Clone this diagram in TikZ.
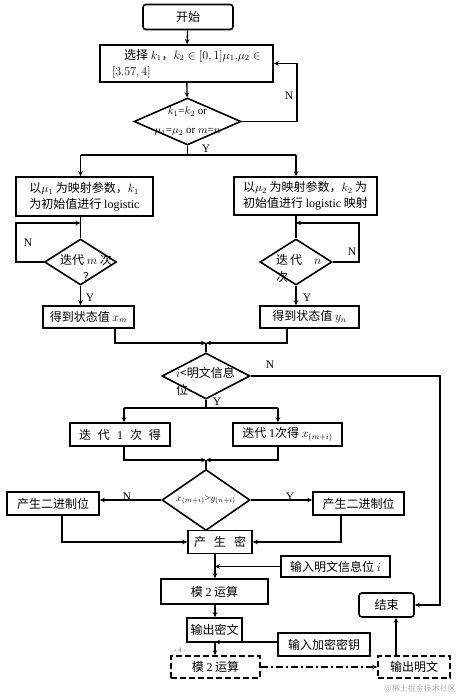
\documentclass[tikz,border=0pt]{standalone}
\usepackage{fontspec}
\setmainfont{Liberation Serif}
\newfontfamily\cjk{Noto Sans CJK SC}
\usetikzlibrary{arrows.meta,shapes.geometric}

\tikzset{
  box/.style={draw, line width=1.6pt, inner sep=2pt, font=\cjk\fontsize{12}{16}\selectfont},
  rbox/.style={box, rounded corners=3pt},
  dbox/.style={box, dash pattern=on 6pt off 3pt},
  dia/.style={draw, diamond, line width=1.6pt, inner sep=0pt},
  txt/.style={inner sep=0pt, font=\cjk\fontsize{12}{17}\selectfont, align=center},
  flag/.style={inner sep=0pt, font=\rmfamily\fontsize{11.5}{12}\selectfont},
  link/.style={line width=1.3pt},
  arr/.style={link, -{Stealth[length=5pt,width=4.5pt]}},
}

\begin{document}
\begin{tikzpicture}[x=1pt,y=-1pt]
    \useasboundingbox (0,0) rectangle (468,700);

    % start and parameters
    \node[rbox, minimum width=90pt, minimum height=25pt] (start) at (188,17) {开始};
    \node[box, minimum width=173pt, minimum height=37pt, align=left] (choose) at (186.5,63.5)
      {\quad 选择 $k_1$，$k_2\in[0,1]\mu_1{,}\mu_2\in$\\$[3.57,4]$};
    \node[dia, minimum width=107pt, minimum height=47pt] (same) at (187.5,121.5) {};
    \node[txt, font=\rmfamily\fontsize{11}{19}\selectfont] (samet) at (same)
      {$k_1$=$k_2$ or\\$\mu_1$=$\mu_2$ or $m$=$n$};
    \draw[arr] (start) -- (choose);
    \draw[arr] (choose) -- (same);
    \coordinate (loop0) at (297,63.5);
    \draw[arr] (same.east) -| (loop0) -- (choose.east);

    % two logistic maps
    \node[box, minimum width=137pt, minimum height=39pt, align=left] (mapa) at (84.5,196.5)
      {以$\mu_1$ 为映射参数，$k_1$\\为初始值进行 {\rmfamily logistic}};
    \node[box, minimum width=143pt, minimum height=38pt, align=left] (mapb) at (305.5,196)
      {以$\mu_2$ 为映射参数，$k_2$ 为\\初始值进行 {\rmfamily logistic} 映射};
    \node[dia, minimum width=72pt, minimum height=46pt] (itm) at (80.5,262) {};
    \node[txt] (itmt) at (86,268) {迭代 $m$ 次\\?};
    \node[dia, minimum width=72pt, minimum height=46pt] (itn) at (296,262) {};
    \node[txt, align=left, anchor=west] (itnt) at (276,268) {迭\,代\quad $n$\\次};
    \node[box, minimum width=91pt, minimum height=22pt] (getx) at (88.5,317) {得到状态值 $x_m$};
    \node[box, minimum width=99pt, minimum height=22pt] (gety) at (309.5,317) {得到状态值 $y_n$};

    \coordinate (s1) at (0,155);
    \draw[link] (same.south) -- (same.south |- s1);
    \draw[link] (itm.north |- s1) -- (itn.north |- s1);
    \draw[arr] (itm.north |- s1) -- (itm.north |- mapa.north);
    \draw[arr] (itn.north |- s1) -- (itn.north |- mapb.north);
    \draw[link] (itm.north |- mapa.south) -- (itm.north);
    \draw[link] (itn.north |- mapb.south) -- (itn.north);
    \coordinate (loopa) at (16,223);
    \coordinate (loopb) at (359,223);
    \draw[arr] (itm.west) -| (loopa) -- (loopa -| itm.north);
    \draw[arr] (itn.east) -| (loopb) -- (loopb -| itn.north);
    \draw[arr] (itm.south) -- (itm.south |- getx.north);
    \draw[arr] (itn.south) -- (itn.south |- gety.north);

    % loop over the plaintext bits
    \coordinate (m1) at (206,343);
    \node[dia, minimum width=88pt, minimum height=46pt] (less) at (206,376) {};
    \node[txt, align=left, anchor=west] (lesst) at (176,381) {$i$<明文信息\\位};
    \draw[arr] ([xshift=26.5pt]getx.south) |- (m1);
    \draw[arr] ([xshift=-22.5pt]gety.south) |- (m1);
    \draw[link] (m1) -- (less.north);

    \node[box, minimum width=100pt, minimum height=23pt] (ita) at (120,434.5)
      {迭\hspace{7pt}代\hspace{7pt}{\rmfamily 1}\hspace{7pt}次\hspace{7pt}得};
    \node[box, minimum width=109pt, minimum height=23pt] (itb) at (287.5,434.5)
      {迭代 {\rmfamily 1}次得 $x_{(m+i)}$};
    \coordinate (s2a) at (124,408);
    \coordinate (s2b) at (278,408);
    \draw[link] (less.south) -- (less.south |- s2a);
    \draw[link] (s2a) -- (s2b);
    \draw[arr] (s2a) -- (s2a |- ita.north);
    \draw[arr] (s2b) -- (s2b |- itb.north);

    \coordinate (m2) at (206,460);
    \node[dia, minimum width=88pt, minimum height=61pt] (cmp) at (206,500) {};
    \node[txt, font=\rmfamily\fontsize{10}{12}\selectfont] (cmpt) at (cmp) {$x_{(m+i)}$>$y_{(n+i)}$};
    \draw[arr] (ita.south -| s2a) |- (m2);
    \draw[arr] (itb.south -| s2b) |- (m2);
    \draw[link] (m2) -- (cmp.north);

    % key bits
    \node[box, minimum width=92pt, minimum height=23pt] (bit0) at (53,503.5) {产生二进制位};
    \node[box, minimum width=91pt, minimum height=23pt] (bit1) at (358.5,503.5) {产生二进制位};
    \node[box, minimum width=64pt, minimum height=23pt] (key) at (220,542)
      {产\hspace{8pt}生\hspace{8pt}密};
    \draw[arr] (cmp.west) -- (cmp.west -| bit0.east);
    \draw[arr] (cmp.east) -- (cmp.east -| bit1.west);
    \draw[arr] ([xshift=9pt]bit0.south) |- (key.west);
    \draw[arr] ([xshift=-17.5pt]bit1.south) |- (key.east);

    % encryption and decryption
    \coordinate (axis) at (215,0);
    \node[box, minimum width=109pt, minimum height=21pt] (in1) at (335.5,566.5) {输入明文信息位 $i$};
    \node[box, minimum width=107pt, minimum height=25pt] (mod1) at (214.5,591.5) {模 {\rmfamily 2} 运算};
    \node[box, minimum width=55pt, minimum height=24pt] (out1) at (214.5,630) {输出密文};
    \node[box, minimum width=92pt, minimum height=23pt] (in2) at (324,644.5) {输入加密密钥};
    \node[dbox, minimum width=89pt, minimum height=22pt] (mod2) at (215.5,667) {模 {\rmfamily 2} 运算};
    \node[dbox, minimum width=72pt, minimum height=22pt] (out2) at (414,667) {输出明文};
    \node[rbox, minimum width=55pt, minimum height=24pt] (stop) at (386.5,605) {结束};
    \draw[arr] (key.south -| axis) -- (mod1.north -| axis);
    \draw[arr] (in1.west) -- (in1.west -| axis);
    \draw[arr] (mod1.south -| axis) -- (out1.north -| axis);
    \draw[arr] (out1.south -| axis) -- (mod2.north -| axis);
    \draw[arr] ([yshift=2.5pt]in2.west) -- ([yshift=2.5pt]in2.west -| axis);
    \draw[arr, dash pattern=on 7pt off 3pt on 2pt off 3pt] (mod2.east) -- (out2.west);
    \draw[arr] ([xshift=-18pt]out2.north) -- ([xshift=-18pt]out2.north |- stop.south);
    \coordinate (rt) at (440,0);
    \draw[arr] (less.east) -- (less.east -| rt) |- (stop.east);

    % Y / N
    \foreach \t/\x/\y [count=\i] in {N/289/96, Y/206/149, N/28/243, Y/90/298, N/352/252, Y/307/298,
      N/270/365, Y/217/402, N/127/497, Y/290/497}
    { \node[flag] (flag\i) at (\x,\y) {\t}; }

    % page number and watermark
    \node[gray, inner sep=0pt, font=\rmfamily\fontsize{7}{8}\selectfont] (page) at (180,650) {- 4 -};
    \node[gray!60, inner sep=0pt, font=\cjk\fontsize{8}{9}\selectfont] (mark) at (420,689) {@稀土掘金技术社区};

\end{tikzpicture}
\end{document}
